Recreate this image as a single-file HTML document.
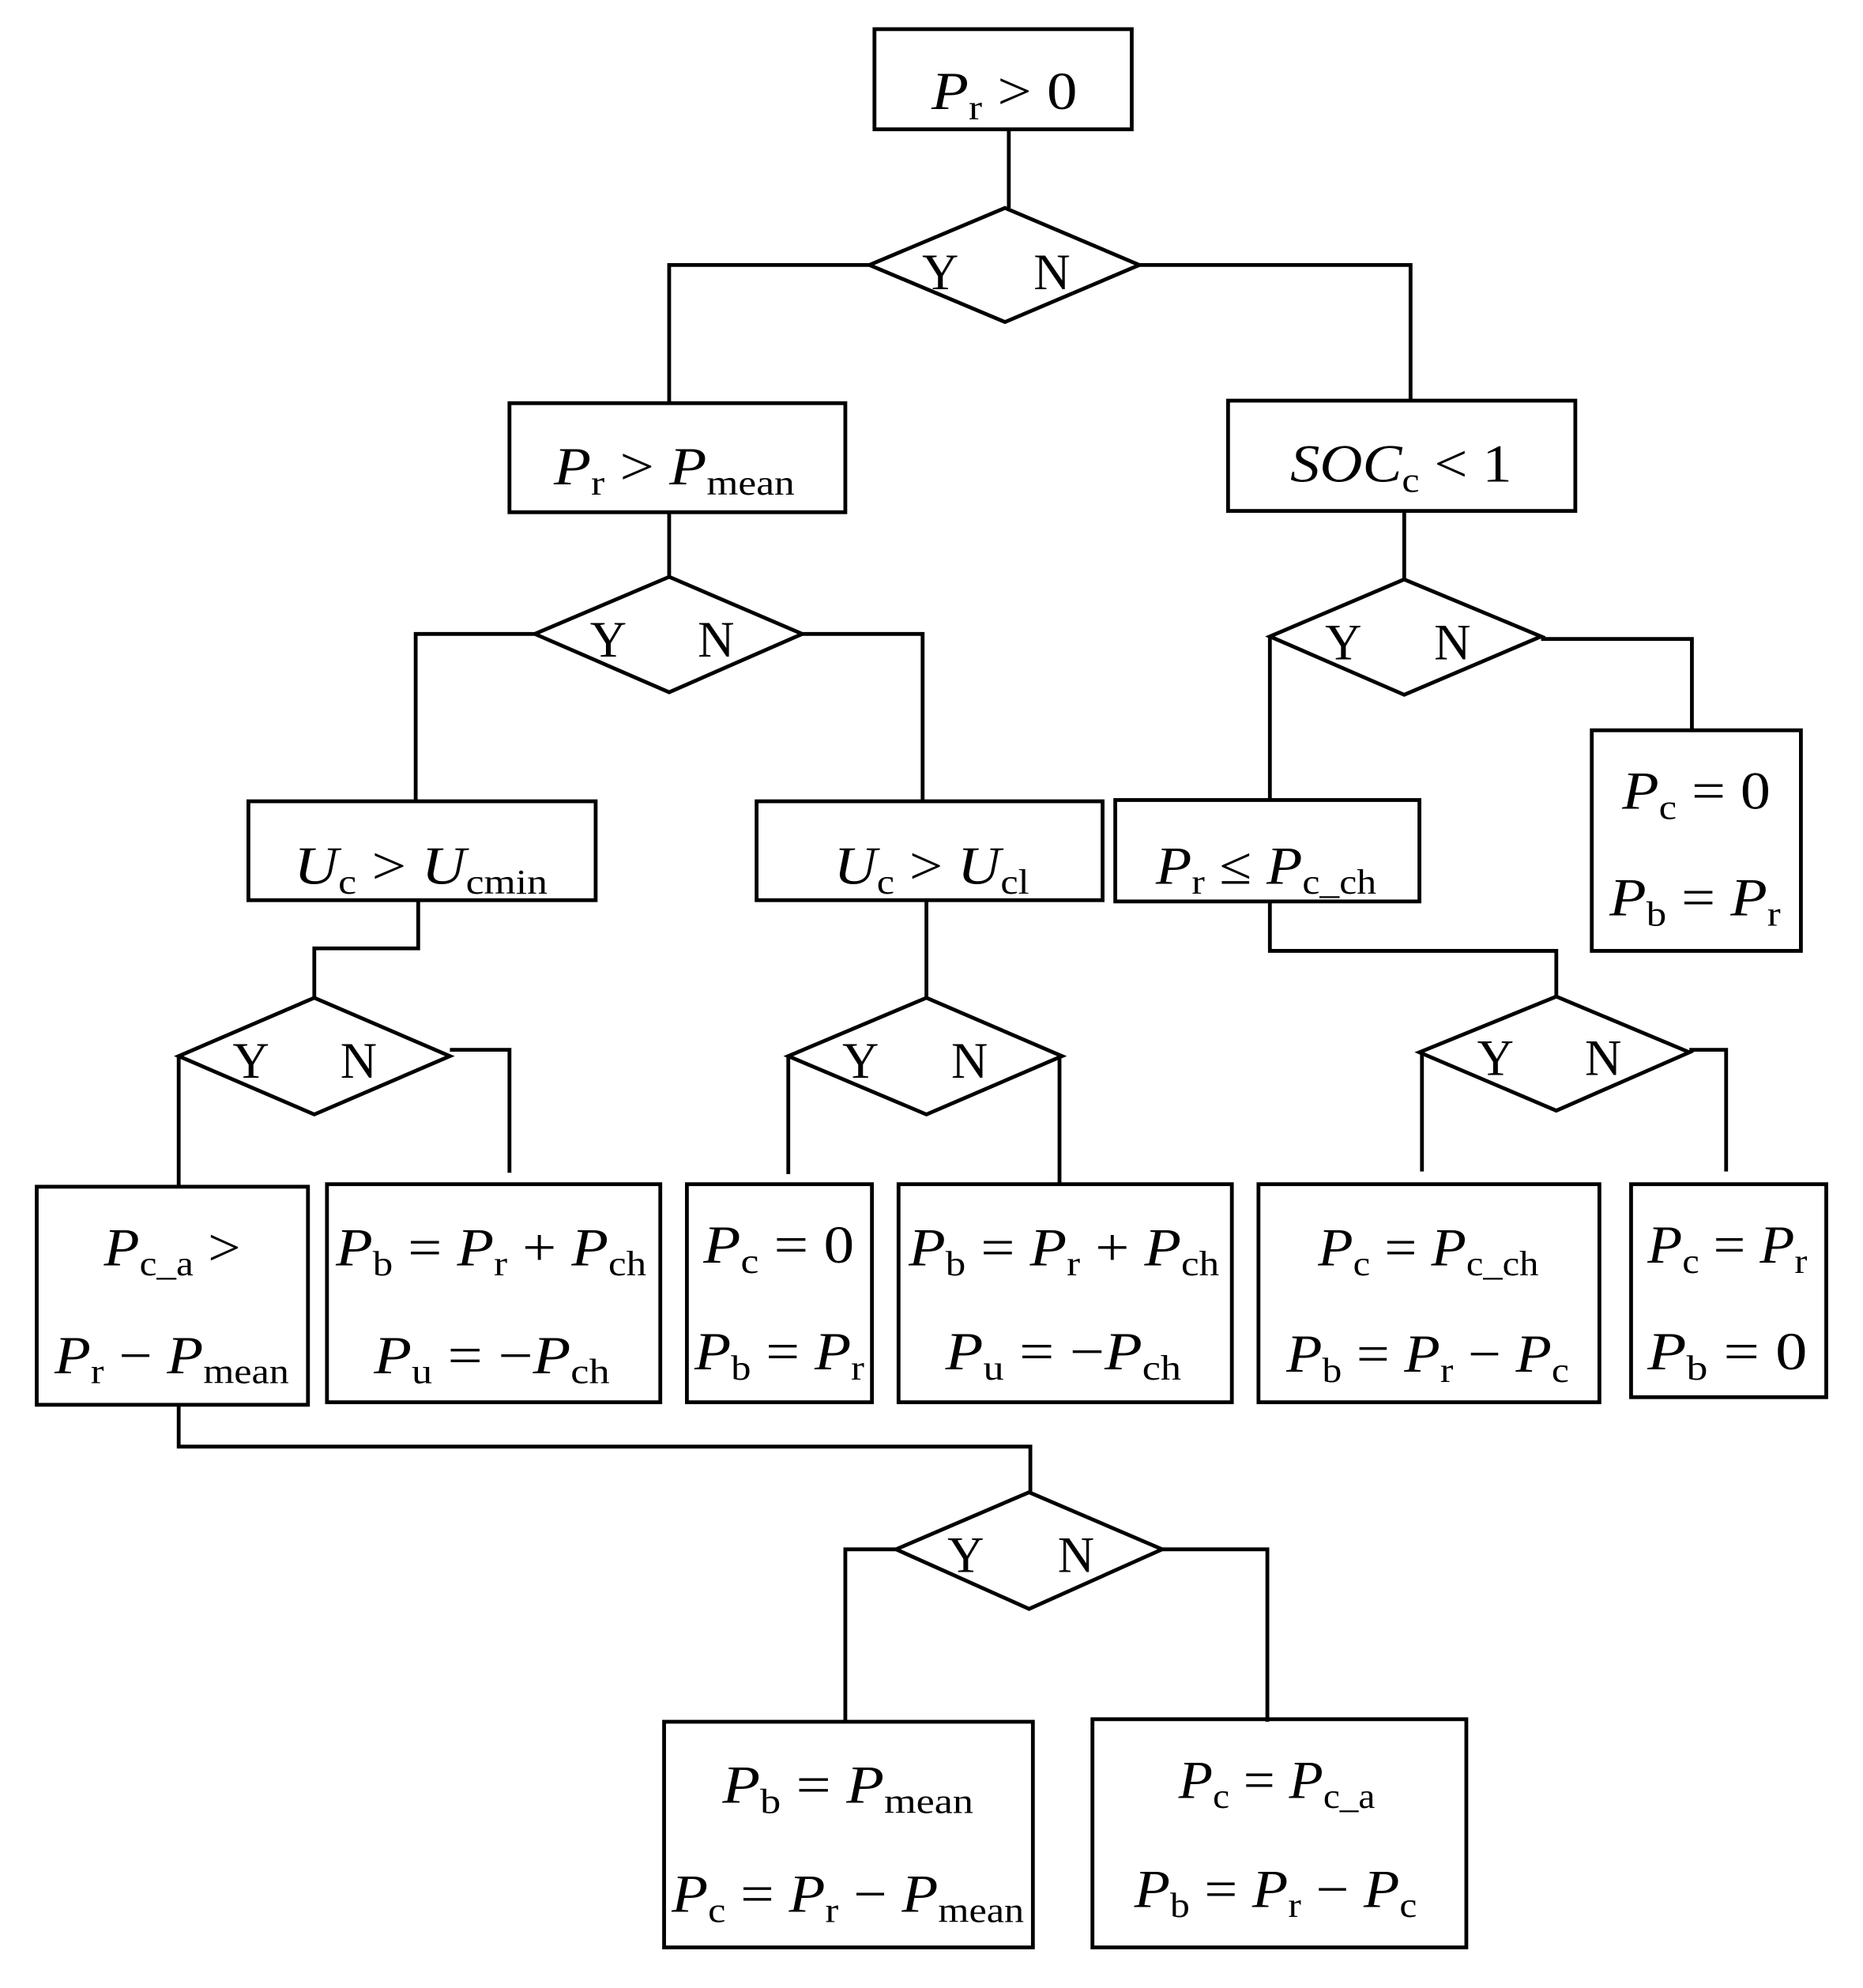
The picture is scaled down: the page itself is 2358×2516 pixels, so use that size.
<!DOCTYPE html>
<html><head><meta charset="utf-8"><style>
html,body{margin:0;padding:0;background:#fff;}
svg{display:block;}
text{font-family:"Liberation Serif",serif;fill:#000;}
.v{font-style:italic;}
</style></head><body>
<svg width="2358" height="2516" viewBox="0 0 1470 1568" preserveAspectRatio="none" xmlns="http://www.w3.org/2000/svg">
<g fill="none" stroke="#000" stroke-width="3">
<!-- boxes -->
<rect x="690" y="23" width="203" height="79"/>
<rect x="402" y="318" width="265" height="86"/>
<rect x="969" y="316" width="274" height="87"/>
<rect x="196" y="632" width="274" height="78"/>
<rect x="597" y="632" width="273" height="78"/>
<rect x="880" y="631" width="240" height="80"/>
<rect x="1256" y="576" width="165" height="174"/>
<rect x="29" y="936" width="214" height="172"/>
<rect x="258" y="934" width="263" height="172"/>
<rect x="542" y="934" width="146" height="172"/>
<rect x="709" y="934" width="263" height="172"/>
<rect x="993" y="934" width="269" height="172"/>
<rect x="1287" y="934" width="154" height="168"/>
<rect x="524" y="1358" width="291" height="178"/>
<rect x="862" y="1356" width="295" height="180"/>
<!-- diamonds -->
<polygon points="793,164 899,209 793,254 686,209"/>
<polygon points="528,455 633,500 528,546 422,500"/>
<polygon points="1108,457 1216,502 1108,548 1002,502"/>
<polygon points="248,787 355,833 248,879 141,833"/>
<polygon points="731,787 838,833 731,879 622,833"/>
<polygon points="1228,786 1333,830 1228,876 1120,830"/>
<polygon points="812,1177 917,1222 812,1269 707,1222"/>
<!-- connectors -->
<polyline points="796,102 796,164"/>
<polyline points="686,209 528,209 528,318"/>
<polyline points="899,209 1113,209 1113,316"/>
<polyline points="528,404 528,455"/>
<polyline points="422,500 328,500 328,632"/>
<polyline points="633,500 728,500 728,632"/>
<polyline points="1108,403 1108,457"/>
<polyline points="1002,502 1002,631"/>
<polyline points="1216,504 1335,504 1335,576"/>
<polyline points="330,710 330,748 248,748 248,787"/>
<polyline points="141,833 141,936"/>
<polyline points="355,828 402,828 402,925"/>
<polyline points="731,710 731,787"/>
<polyline points="622,833 622,926"/>
<polyline points="836,833 836,934"/>
<polyline points="1002,711 1002,750 1228,750 1228,786"/>
<polyline points="1122,830 1122,924"/>
<polyline points="1333,828 1362,828 1362,924"/>
<polyline points="141,1108 141,1141 813,1141 813,1177"/>
<polyline points="707,1222 667,1222 667,1358"/>
<polyline points="917,1222 1000,1222 1000,1358"/>
</g>
<g font-size="40">
<text x="742" y="228" text-anchor="middle">Y</text><text x="830" y="228" text-anchor="middle">N</text>
<text x="480" y="518" text-anchor="middle">Y</text><text x="565" y="518" text-anchor="middle">N</text>
<text x="1060" y="520" text-anchor="middle">Y</text><text x="1146" y="520" text-anchor="middle">N</text>
<text x="198" y="850" text-anchor="middle">Y</text><text x="283" y="850" text-anchor="middle">N</text>
<text x="679" y="850" text-anchor="middle">Y</text><text x="765" y="850" text-anchor="middle">N</text>
<text x="1180" y="848" text-anchor="middle">Y</text><text x="1265" y="848" text-anchor="middle">N</text>
<text x="762" y="1240" text-anchor="middle">Y</text><text x="849" y="1240" text-anchor="middle">N</text>
</g>
<g font-size="42">
<text x="735" y="86" textLength="115" lengthAdjust="spacingAndGlyphs"><tspan class="v">P</tspan><tspan font-size="28" dy="8">r</tspan><tspan dy="-8"> &gt; 0</tspan></text>
<text x="437" y="382" textLength="190" lengthAdjust="spacingAndGlyphs"><tspan class="v">P</tspan><tspan font-size="28" dy="8">r</tspan><tspan dy="-8"> &gt; </tspan><tspan class="v">P</tspan><tspan font-size="28" dy="8">mean</tspan></text>
<text x="1018" y="380" textLength="175" lengthAdjust="spacingAndGlyphs"><tspan class="v">SOC</tspan><tspan font-size="28" dy="8">c</tspan><tspan dy="-8"> &lt; 1</tspan></text>
<text x="232" y="697" textLength="200" lengthAdjust="spacingAndGlyphs"><tspan class="v">U</tspan><tspan font-size="28" dy="8">c</tspan><tspan dy="-8"> &gt; </tspan><tspan class="v">U</tspan><tspan font-size="28" dy="8">cmin</tspan></text>
<text x="658" y="697" textLength="154" lengthAdjust="spacingAndGlyphs"><tspan class="v">U</tspan><tspan font-size="28" dy="8">c</tspan><tspan dy="-8"> &gt; </tspan><tspan class="v">U</tspan><tspan font-size="28" dy="8">cl</tspan></text>
<text x="912" y="697" textLength="174" lengthAdjust="spacingAndGlyphs"><tspan class="v">P</tspan><tspan font-size="28" dy="8">r</tspan><tspan dy="-8"> ≤ </tspan><tspan class="v">P</tspan><tspan font-size="28" dy="8">c_ch</tspan></text>
<text x="1280" y="638" textLength="117" lengthAdjust="spacingAndGlyphs"><tspan class="v">P</tspan><tspan font-size="28" dy="8">c</tspan><tspan dy="-8"> = 0</tspan></text>
<text x="1270" y="722" textLength="135" lengthAdjust="spacingAndGlyphs"><tspan class="v">P</tspan><tspan font-size="28" dy="8">b</tspan><tspan dy="-8"> = </tspan><tspan class="v">P</tspan><tspan font-size="28" dy="8">r</tspan></text>

<text x="82" y="998" textLength="108" lengthAdjust="spacingAndGlyphs"><tspan class="v">P</tspan><tspan font-size="28" dy="8">c_a</tspan><tspan dy="-8"> &gt;</tspan></text>
<text x="43" y="1083" textLength="185" lengthAdjust="spacingAndGlyphs"><tspan class="v">P</tspan><tspan font-size="28" dy="8">r</tspan><tspan dy="-8"> − </tspan><tspan class="v">P</tspan><tspan font-size="28" dy="8">mean</tspan></text>
<text x="265" y="998" textLength="245" lengthAdjust="spacingAndGlyphs"><tspan class="v">P</tspan><tspan font-size="28" dy="8">b</tspan><tspan dy="-8"> = </tspan><tspan class="v">P</tspan><tspan font-size="28" dy="8">r</tspan><tspan dy="-8"> + </tspan><tspan class="v">P</tspan><tspan font-size="28" dy="8">ch</tspan></text>
<text x="295" y="1083" textLength="186" lengthAdjust="spacingAndGlyphs"><tspan class="v">P</tspan><tspan font-size="28" dy="8">u</tspan><tspan dy="-8"> = −</tspan><tspan class="v">P</tspan><tspan font-size="28" dy="8">ch</tspan></text>
<text x="555" y="996" textLength="119" lengthAdjust="spacingAndGlyphs"><tspan class="v">P</tspan><tspan font-size="28" dy="8">c</tspan><tspan dy="-8"> = 0</tspan></text>
<text x="548" y="1080" textLength="134" lengthAdjust="spacingAndGlyphs"><tspan class="v">P</tspan><tspan font-size="28" dy="8">b</tspan><tspan dy="-8"> = </tspan><tspan class="v">P</tspan><tspan font-size="28" dy="8">r</tspan></text>
<text x="717" y="998" textLength="245" lengthAdjust="spacingAndGlyphs"><tspan class="v">P</tspan><tspan font-size="28" dy="8">b</tspan><tspan dy="-8"> = </tspan><tspan class="v">P</tspan><tspan font-size="28" dy="8">r</tspan><tspan dy="-8"> + </tspan><tspan class="v">P</tspan><tspan font-size="28" dy="8">ch</tspan></text>
<text x="746" y="1080" textLength="186" lengthAdjust="spacingAndGlyphs"><tspan class="v">P</tspan><tspan font-size="28" dy="8">u</tspan><tspan dy="-8"> = −</tspan><tspan class="v">P</tspan><tspan font-size="28" dy="8">ch</tspan></text>
<text x="1040" y="998" textLength="174" lengthAdjust="spacingAndGlyphs"><tspan class="v">P</tspan><tspan font-size="28" dy="8">c</tspan><tspan dy="-8"> = </tspan><tspan class="v">P</tspan><tspan font-size="28" dy="8">c_ch</tspan></text>
<text x="1015" y="1082" textLength="223" lengthAdjust="spacingAndGlyphs"><tspan class="v">P</tspan><tspan font-size="28" dy="8">b</tspan><tspan dy="-8"> = </tspan><tspan class="v">P</tspan><tspan font-size="28" dy="8">r</tspan><tspan dy="-8"> − </tspan><tspan class="v">P</tspan><tspan font-size="28" dy="8">c</tspan></text>
<text x="1300" y="996" textLength="126" lengthAdjust="spacingAndGlyphs"><tspan class="v">P</tspan><tspan font-size="28" dy="8">c</tspan><tspan dy="-8"> = </tspan><tspan class="v">P</tspan><tspan font-size="28" dy="8">r</tspan></text>
<text x="1300" y="1080" textLength="126" lengthAdjust="spacingAndGlyphs"><tspan class="v">P</tspan><tspan font-size="28" dy="8">b</tspan><tspan dy="-8"> = 0</tspan></text>

<text x="570" y="1422" textLength="198" lengthAdjust="spacingAndGlyphs"><tspan class="v">P</tspan><tspan font-size="28" dy="8">b</tspan><tspan dy="-8"> = </tspan><tspan class="v">P</tspan><tspan font-size="28" dy="8">mean</tspan></text>
<text x="530" y="1508" textLength="278" lengthAdjust="spacingAndGlyphs"><tspan class="v">P</tspan><tspan font-size="28" dy="8">c</tspan><tspan dy="-8"> = </tspan><tspan class="v">P</tspan><tspan font-size="28" dy="8">r</tspan><tspan dy="-8"> − </tspan><tspan class="v">P</tspan><tspan font-size="28" dy="8">mean</tspan></text>
<text x="930" y="1418" textLength="155" lengthAdjust="spacingAndGlyphs"><tspan class="v">P</tspan><tspan font-size="28" dy="8">c</tspan><tspan dy="-8"> = </tspan><tspan class="v">P</tspan><tspan font-size="28" dy="8">c_a</tspan></text>
<text x="895" y="1504" textLength="223" lengthAdjust="spacingAndGlyphs"><tspan class="v">P</tspan><tspan font-size="28" dy="8">b</tspan><tspan dy="-8"> = </tspan><tspan class="v">P</tspan><tspan font-size="28" dy="8">r</tspan><tspan dy="-8"> − </tspan><tspan class="v">P</tspan><tspan font-size="28" dy="8">c</tspan></text>
</g>
</svg>
</body></html>
